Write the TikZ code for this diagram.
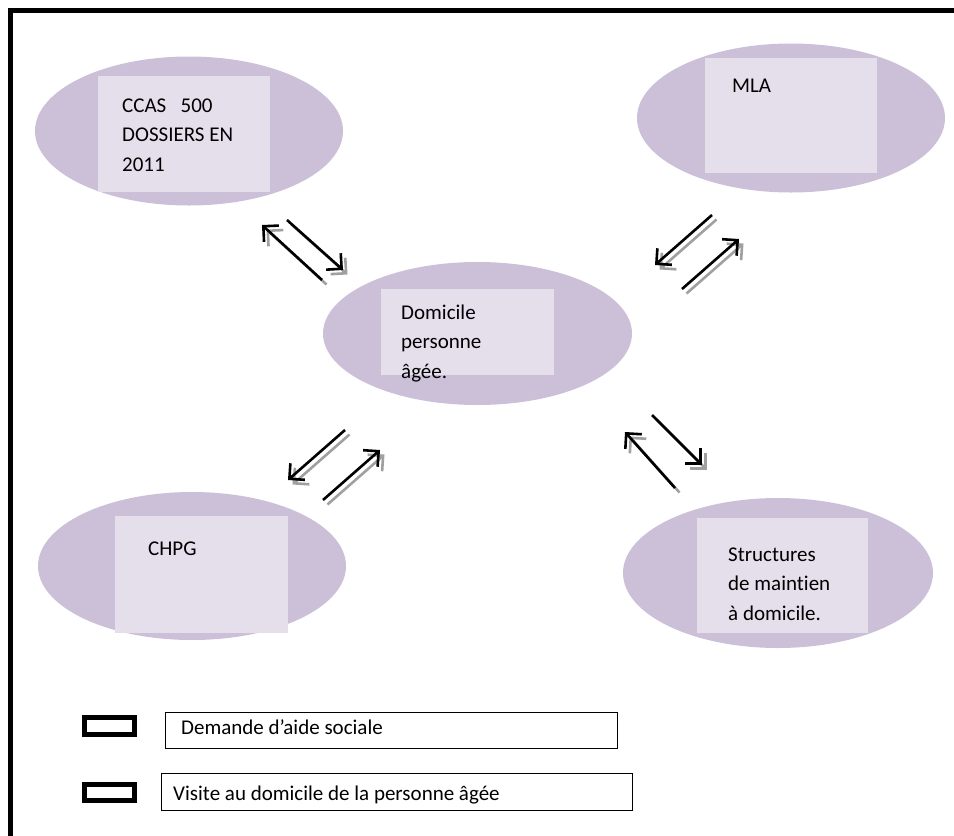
\documentclass[tikz,border=0pt]{standalone}
\usepackage{fontspec}
\setmainfont{Carlito}[Ligatures=NoCommon]
\usetikzlibrary{shapes.geometric,arrows.meta}
\definecolor{ellfill}{HTML}{CCC0D9}
\definecolor{boxfill}{HTML}{E5DFEC}
\definecolor{shadowgray}{HTML}{A0A0A0}
\begin{document}
\begin{tikzpicture}[x=1pt,y=-1pt,
  ell/.style={ellipse, fill=ellfill, inner sep=0pt},
  rbox/.style={rectangle, fill=boxfill, inner sep=0pt},
  txt/.style={anchor=base west, inner sep=0pt, align=left, font=\fontsize{21}{29.5}\selectfont},
  arr/.style={line width=2.6pt, line cap=butt, -{Straight Barb[length=11pt,width=22pt]}},
  shadowarr/.style={arr, draw=shadowgray},
  legbox/.style={draw=black, line width=5pt},
  legrect/.style={draw=black, line width=1pt}]
\useasboundingbox (0,0) rectangle (954,836);
% frame
\draw[line width=5pt] (8.3,10.8) -- (954,10.8);
\draw[line width=5pt] (10.8,8.3) -- (10.8,836);
% CCAS
\node[ell, minimum width=308pt, minimum height=149pt] (ccasE) at (189,131) {};
\node[rbox, minimum width=172pt, minimum height=116pt] (ccasR) at (184,134) {};
\node[txt] (ccasT) at (122,171) {CCAS\ \ \ 500\\DOSSIERS EN\\2011};
% MLA
\node[ell, minimum width=308pt, minimum height=149pt] (mlaE) at (791,118) {};
\node[rbox, minimum width=172pt, minimum height=115pt] (mlaR) at (791,115.5) {};
\node[txt] (mlaT) at (732,92) {MLA};
% Domicile
\node[ell, minimum width=309pt, minimum height=143pt] (domE) at (477.5,333.5) {};
\node[rbox, minimum width=173pt, minimum height=86pt] (domR) at (467.5,332) {};
\node[txt] (domT) at (401,378) {Domicile\\personne\\âgée.};
% CHPG
\node[ell, minimum width=308pt, minimum height=148pt] (chpgE) at (192,566) {};
\node[rbox, minimum width=173pt, minimum height=117pt] (chpgR) at (201.5,574.5) {};
\node[txt] (chpgT) at (148,555) {CHPG};
% Structures
\node[ell, minimum width=310pt, minimum height=150pt] (strE) at (778,573) {};
\node[rbox, minimum width=171pt, minimum height=115pt] (strR) at (782.5,575.5) {};
\node[txt] (strT) at (728,620) {Structures\\de maintien\\à domicile.};
% arrow end points
\coordinate (a1s) at (322,280); \coordinate (a1e) at (262,225);
\coordinate (a2s) at (287,220); \coordinate (a2e) at (343,270);
\coordinate (b1s) at (712,215); \coordinate (b1e) at (655,265);
\coordinate (b2s) at (682,289); \coordinate (b2e) at (739,239);
\coordinate (c1s) at (345,430); \coordinate (c1e) at (288,480);
\coordinate (c2s) at (323,500); \coordinate (c2e) at (380,450);
\coordinate (d1s) at (675,488); \coordinate (d1e) at (625,432);
\coordinate (d2s) at (652,415); \coordinate (d2e) at (702,465);
\foreach \p in {a1,a2,b1,b2,c1,c2,d1,d2}
  \draw[shadowarr] ([shift={(4.5,4.5)}]\p s) -- ([shift={(4.5,4.5)}]\p e);
\foreach \p in {a1,a2,b1,b2,c1,c2,d1,d2}
  \draw[arr] (\p s) -- (\p e);
% legend
\node[legbox, minimum width=50pt, minimum height=17pt, inner sep=0pt] (lb1) at (109.5,726) {};
\node[legbox, minimum width=50pt, minimum height=16pt, inner sep=0pt] (lb2) at (109.5,792.5) {};
\node[legrect, minimum width=452pt, minimum height=36pt, inner sep=0pt] (lr1) at (391.5,730.5) {};
\node[legrect, minimum width=471pt, minimum height=37pt, inner sep=0pt] (lr2) at (397,792) {};
\node[txt] (lt1) at (181,734) {Demande d’aide sociale};
\node[txt] (lt2) at (173,800) {Visite au domicile de la personne âgée};
\end{tikzpicture}
\end{document}
